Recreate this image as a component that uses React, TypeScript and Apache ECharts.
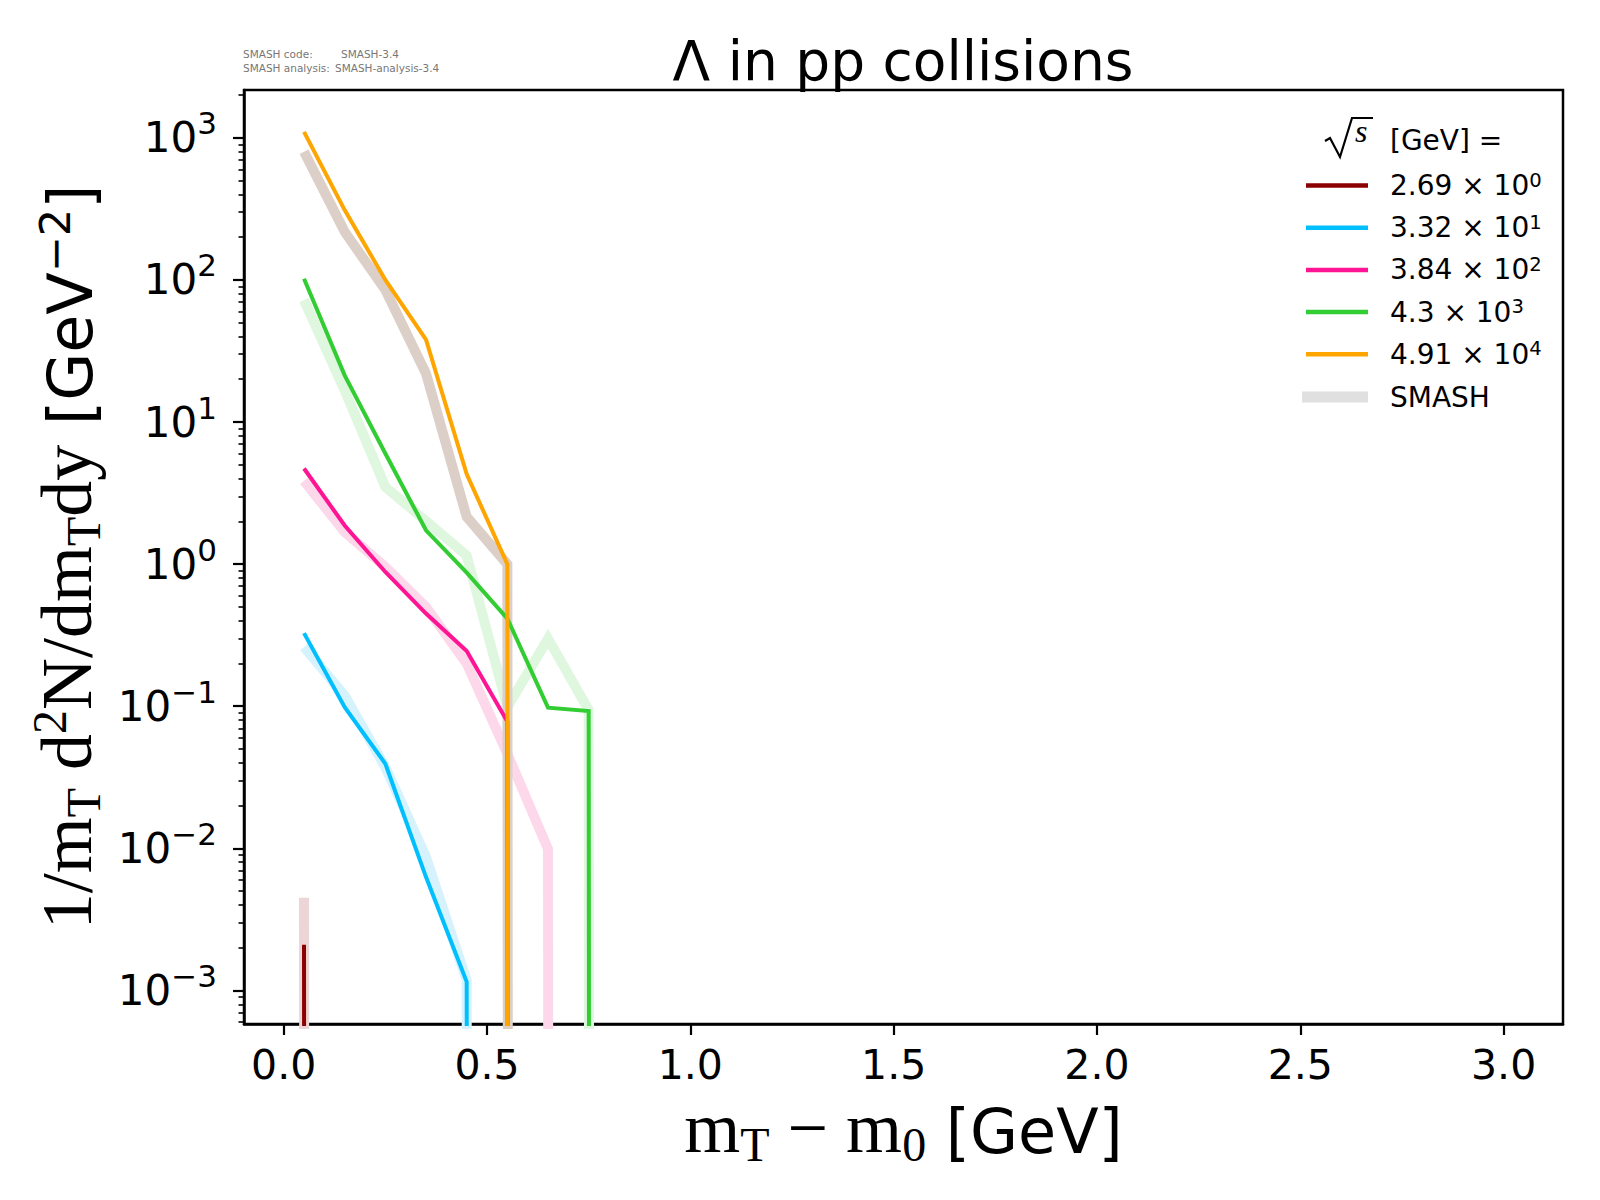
import React, { useEffect, useRef } from 'react';
import * as echarts from 'echarts';

// ---- data ----
const MT_BINS = [0.05, 0.15, 0.25, 0.35, 0.45, 0.55, 0.65, 0.75, 0.85];

const ENERGY_LABELS = ['2.69 × 10^0', '3.32 × 10^1', '3.84 × 10^2', '4.3 × 10^3', '4.91 × 10^4'];

const DATA_2_69 = [0.0021, 0, 0, 0, 0, 0, 0, 0, 0];
const DATA_33_2 = [0.327, 0.0986, 0.0394, 0.00628, 0.00115, 0, 0, 0, 0];
const DATA_384 = [4.71, 1.87, 0.88, 0.449, 0.245, 0.078, 0, 0, 0];
const DATA_4300 = [102, 21.3, 6.0, 1.73, 0.87, 0.414, 0.0977, 0.0925, 0];
const DATA_49100 = [1100, 310, 100, 38, 4.3, 1.0, 0, 0, 0];

const SMASH_2_69 = [0.0045, 0, 0, 0, 0, 0, 0, 0, 0];
const SMASH_33_2 = [0.261, 0.119, 0.0373, 0.00867, 0.00118, 0, 0, 0, 0];
const SMASH_384 = [3.85, 1.68, 0.955, 0.5, 0.2, 0.0463, 0.0099, 0, 0];
const SMASH_4300 = [72, 16.7, 3.49, 2.01, 1.15, 0.0986, 0.299, 0.094, 0];
const SMASH_49100 = [796, 218, 85, 21.9, 2.15, 1.0, 0, 0, 0];

const DATA_SERIES = [DATA_2_69, DATA_33_2, DATA_384, DATA_4300, DATA_49100];
const SMASH_SERIES = [SMASH_2_69, SMASH_33_2, SMASH_384, SMASH_4300, SMASH_49100];

const DATA_COLORS = ['#8b0000', '#00bfff', '#ff1493', '#32cd32', '#ffa500'];
const SMASH_COLORS = ['#ebd5d6', '#d6f2fd', '#fdd8eb', '#dff6df', '#dccfc7'];

const X_TICKS = [0, 0.5, 1.0, 1.5, 2.0, 2.5, 3.0];
const Y_DECADES = [-3, -2, -1, 0, 1, 2, 3];
const X_RANGE = [-0.0976, 3.146];
const Y_RANGE = [5.81e-4, 2168];

const SANS = 'DejaVu Sans';
const SERIF = 'Liberation Serif';

const LOG_FLOOR = -300; // non-positive values clipped like matplotlib's log scale
const toLog = (v: number) => (v > 0 ? Math.log10(v) : LOG_FLOOR);

const minorTicks: number[] = [];
for (let n = -4; n <= 3; n++) {
  for (let k = 2; k <= 9; k++) {
    const l = Math.log10(k * Math.pow(10, n));
    if (l > Math.log10(Y_RANGE[0]) && l < Math.log10(Y_RANGE[1])) minorTicks.push(l);
  }
}

const fmtExp = (e: number) => {
  const r = Math.round(e);
  return r < 0 ? '\u2212' + Math.abs(r) : String(r);
};

const NAME_RICH: any = {
  r: { fontFamily: SERIF, fontSize: 72, lineHeight: 86, color: '#000' },
  rsub: { fontFamily: SERIF, fontSize: 48, lineHeight: 48, padding: [32, 0, 0, 0], color: '#000' },
  rsup: { fontFamily: SERIF, fontSize: 48, lineHeight: 48, padding: [0, 0, 36, 0], color: '#000' },
  s: { fontFamily: SANS, fontSize: 62, lineHeight: 80, padding: [6, 0, 0, 0], color: '#000' },
  ssup: { fontFamily: SANS, fontSize: 43, lineHeight: 43, padding: [0, 0, 25, 0], color: '#000' },
};

const TICK_RICH: any = {
  b: { fontFamily: SANS, fontSize: 42, lineHeight: 42, color: '#000' },
  sup: { fontFamily: SANS, fontSize: 31, lineHeight: 31, padding: [0, 0, 29, 0], color: '#000' },
};

const LEGEND_RICH: any = {
  t: { fontFamily: SANS, fontSize: 28, lineHeight: 30, padding: [0, 0, 0, 17], color: '#000' },
  sup: { fontFamily: SANS, fontSize: 19.6, lineHeight: 19, padding: [0, 0, 11, 0], color: '#000' },
};

const legendFormatter = (name: string) => {
  const parts = name.split('^');
  if (parts.length === 2) return `{t|${parts[0]}}{sup|${parts[1]}}`;
  return `{t|${name}}`;
};

export default function App() {
  const ref = useRef<HTMLDivElement>(null);

  useEffect(() => {
    document.body.style.margin = '0';
    if (!ref.current) return;
    const chart = echarts.init(ref.current, undefined, { renderer: 'svg' });

    const series: any[] = [];
    SMASH_SERIES.forEach((vals, i) => {
      series.push({
        type: 'line',
        name: 'SMASH',
        yAxisIndex: 0,
        data: MT_BINS.map((x, j) => [x, toLog(vals[j])]),
        color: SMASH_COLORS[i],
        lineStyle: { color: SMASH_COLORS[i], width: 10, cap: 'butt', join: 'miter' },
        symbol: 'none',
        showSymbol: false,
        clip: true,
        silent: true,
      });
    });
    DATA_SERIES.forEach((vals, i) => {
      series.push({
        type: 'line',
        name: ENERGY_LABELS[i],
        yAxisIndex: 0,
        data: MT_BINS.map((x, j) => [x, toLog(vals[j])]),
        color: DATA_COLORS[i],
        lineStyle: { color: DATA_COLORS[i], width: 4, cap: 'butt', join: 'miter' },
        symbol: 'none',
        showSymbol: false,
        clip: true,
        silent: true,
      });
    });

    const option: any = {
      animation: false,
      backgroundColor: '#fff',
      textStyle: { fontFamily: SANS },
      grid: {
        left: 244,
        right: 37,
        top: 90,
        bottom: 176,
        show: true,
        borderColor: '#000',
        borderWidth: 2.5,
        backgroundColor: 'transparent',
        containLabel: false,
        outerBoundsMode: 'none',
      },
      xAxis: {
        type: 'value',
        min: X_RANGE[0],
        max: X_RANGE[1],
        splitLine: { show: false },
        axisLine: { show: true, onZero: false, lineStyle: { color: '#000', width: 2.5 } },
        axisTick: { show: true, customValues: X_TICKS, length: 11, lineStyle: { color: '#000', width: 2.2 } },
        axisLabel: {
          show: true,
          customValues: X_TICKS,
          margin: 20,
          fontFamily: SANS,
          fontSize: 41,
          color: '#000',
          formatter: (v: number) => v.toFixed(1),
        },
        name: '{r|m}{rsub|T}{r| \u2212 m}{rsub|0}{s| [GeV]}',
        nameLocation: 'middle',
        nameGap: 61,
        nameMoveOverlap: false,
        nameTextStyle: { fontFamily: SERIF, fontSize: 72, color: '#000', rich: NAME_RICH },
      },
      yAxis: [
        {
          type: 'value',
          position: 'left',
          min: Math.log10(Y_RANGE[0]),
          max: Math.log10(Y_RANGE[1]),
          splitLine: { show: false },
          axisLine: { show: true, onZero: false, lineStyle: { color: '#000', width: 2.5 } },
          axisTick: { show: true, customValues: Y_DECADES, length: 11, lineStyle: { color: '#000', width: 2.2 } },
          axisLabel: {
            show: true,
            customValues: Y_DECADES,
            margin: 27,
            fontFamily: SANS,
            fontSize: 42,
            color: '#000',
            formatter: (v: number) => `{b|10}{sup|${fmtExp(v)}}`,
            rich: TICK_RICH,
          },
          name: '{r|1/m}{rsub|T}{r| d}{rsup|2}{r|N/dm}{rsub|T}{r|dy}{s| [GeV}{ssup|\u22122}{s|]}',
          nameLocation: 'middle',
          nameRotate: 90,
          nameGap: 134,
          nameMoveOverlap: false,
          nameTextStyle: { fontFamily: SERIF, fontSize: 72, color: '#000', rich: NAME_RICH },
        },
        {
          type: 'value',
          position: 'left',
          offset: 0,
          min: Math.log10(Y_RANGE[0]),
          max: Math.log10(Y_RANGE[1]),
          splitLine: { show: false },
          axisLine: { show: false, onZero: false },
          axisTick: { show: true, customValues: minorTicks, length: 5.5, lineStyle: { color: '#000', width: 1.6 } },
          axisLabel: { show: false },
        },
      ],
      legend: [
        {
          data: ENERGY_LABELS,
          orient: 'vertical',
          left: 1306,
          top: 170,
          padding: 0,
          itemWidth: 62,
          itemHeight: 4.5,
          itemGap: 11.2,
          icon: 'rect',
          selectedMode: false,
          formatter: legendFormatter,
          textStyle: { fontFamily: SANS, fontSize: 28, lineHeight: 30, color: '#000', rich: LEGEND_RICH },
        },
        {
          data: [{ name: 'SMASH', itemStyle: { color: '#e0e0e0' } }],
          orient: 'vertical',
          left: 1302,
          top: 382,
          padding: 0,
          itemWidth: 66,
          itemHeight: 11,
          itemGap: 12,
          icon: 'rect',
          selectedMode: false,
          formatter: (name: string) => `{t|${name}}`,
          textStyle: {
            fontFamily: SANS,
            fontSize: 28,
            lineHeight: 30,
            color: '#000',
            rich: { t: { fontFamily: SANS, fontSize: 28, lineHeight: 30, padding: [0, 0, 0, 17], color: '#000' } },
          },
        },
      ],
      graphic: [
        {
          type: 'text',
          x: 903,
          y: 61,
          style: {
            text: '\u039b in pp collisions',
            fontFamily: SANS,
            fontSize: 55,
            fill: '#000',
            textAlign: 'center',
            textVerticalAlign: 'middle',
          },
        },
        { type: 'text', x: 243, y: 54, style: { text: 'SMASH code:', fontFamily: SANS, fontSize: 10.5, fill: '#777', textVerticalAlign: 'middle' } },
        { type: 'text', x: 341, y: 54, style: { text: 'SMASH-3.4', fontFamily: SANS, fontSize: 10.5, fill: '#777', textVerticalAlign: 'middle' } },
        { type: 'text', x: 243, y: 68, style: { text: 'SMASH analysis:', fontFamily: SANS, fontSize: 10.5, fill: '#777', textVerticalAlign: 'middle' } },
        { type: 'text', x: 335, y: 68, style: { text: 'SMASH-analysis-3.4', fontFamily: SANS, fontSize: 10.5, fill: '#777', textVerticalAlign: 'middle' } },
        {
          type: 'polyline',
          shape: { points: [[1325, 141], [1330, 138], [1340, 157], [1352, 118], [1373, 118]] },
          style: { stroke: '#000', lineWidth: 2.2, fill: 'none' },
        },
        {
          type: 'text',
          x: 1355,
          y: 147,
          style: { text: 's', fontFamily: SERIF, fontStyle: 'italic', fontSize: 32, fill: '#000', textVerticalAlign: 'bottom' },
        },
        {
          type: 'text',
          x: 1390,
          y: 140,
          style: { text: '[GeV] =', fontFamily: SANS, fontSize: 28, fill: '#000', textVerticalAlign: 'middle' },
        },
      ],
      series,
    };

    chart.setOption(option);
    return () => chart.dispose();
  }, []);

  return <div ref={ref} style={{ width: 1600, height: 1200 }} />;
}
